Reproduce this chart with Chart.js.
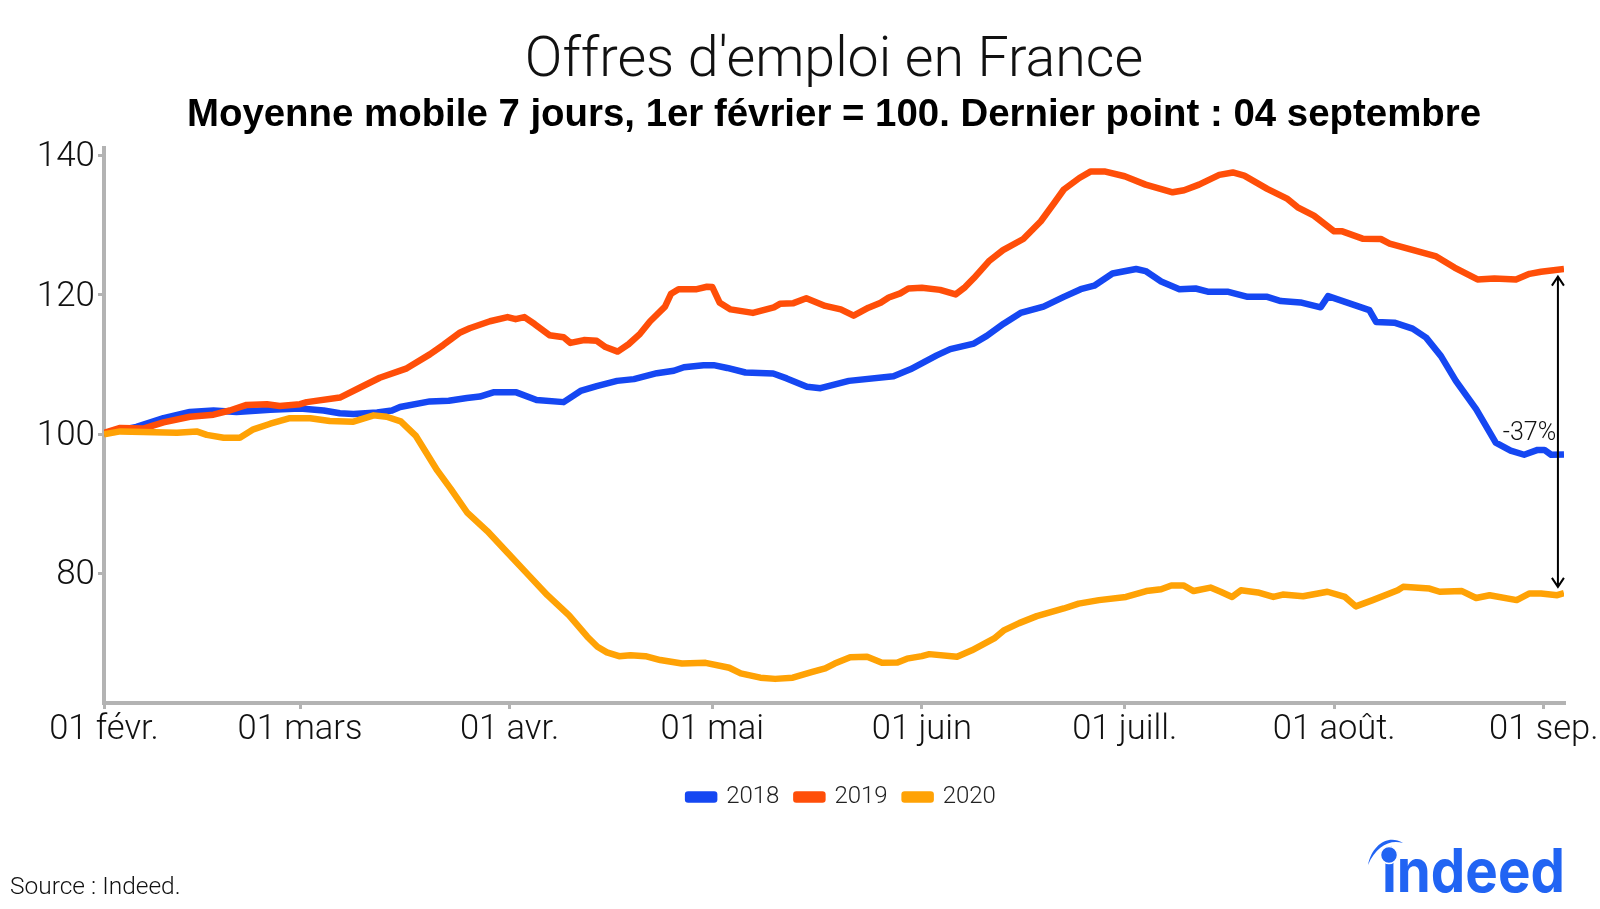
<!DOCTYPE html>
<html lang="fr">
<head>
<meta charset="utf-8">
<title>Offres d'emploi en France</title>
<script src="https://cdn.jsdelivr.net/npm/chart.js@4"></script>
<style>
  html, body { margin: 0; padding: 0; background: #fff; }
  #wrap { position: relative; width: 1600px; height: 909px; overflow: hidden; }
  #source { position: absolute; left: 10px; top: 871px; font: 300 24.5px Roboto, "Liberation Sans", sans-serif; color: #111; }
  #logo { position: absolute; left: 1360px; top: 825px; width: 220px; height: 84px; }
</style>
</head>
<body>
<div id="wrap">
  <canvas id="chart" width="1600" height="909"></canvas>
  <div id="source">Source : Indeed.</div>
  <svg id="logo" viewBox="1360 825 220 84">
    <path d="M1368 865 C1372 845 1388 834 1403 843 C1390 839 1376 846 1368 865 Z" fill="#2164f3"/>
    <text x="1382" y="892" font-family="Inter, Roboto, sans-serif" font-weight="700" font-size="60" textLength="183" lengthAdjust="spacingAndGlyphs" fill="#2164f3">indeed</text>
    <circle cx="1389" cy="855" r="8.5" fill="#2164f3" stroke="#fff" stroke-width="1.5"/>
  </svg>
</div>
<script>
// ==============================
// data (day 0 = 1 Feb)
// ==============================
const days2018 = [0,4.8,8.8,12.7,16.2,19.6,24.6,29,32.5,34.9,36.9,40.4,42.6,43.8,48.2,51,53.7,55.6,57.6,61,64,68,70.5,72.9,75.9,78.4,81.8,84.3,85.8,88.7,90.2,92.2,94.9,99,101,104,106,110.2,116.8,119.3,123.2,125.2,128.7,130.6,133.1,135.6,139,142,144.5,146.5,149.2,152.7,154.1,156.4,159.1,161.5,163.3,166.2,169.2,172.1,174.1,177,180,181.1,187.2,188.2,190.9,193.6,195.6,197.8,200,203,205.9,208.1,210.1,212.1,213.1,214.1,216];
const values2018 = [100.1,101.05,102.3,103.2,103.4,103.2,103.5,103.7,103.4,103,102.9,103.1,103.4,103.9,104.7,104.8,105.2,105.4,106,106,104.9,104.6,106.2,106.9,107.65,107.9,108.75,109.1,109.6,109.9,109.9,109.5,108.85,108.7,108,106.8,106.6,107.65,108.3,109.3,111.3,112.2,113,114.1,115.85,117.4,118.3,119.7,120.8,121.3,123.05,123.7,123.4,121.9,120.8,120.9,120.45,120.45,119.7,119.7,119.1,118.9,118.2,119.8,117.8,116.1,116,115.15,113.85,111.2,107.65,103.6,98.8,97.65,97.05,97.75,97.75,97.05,97.1];

const days2019 = [0,2.4,5.8,8.8,12.7,16.2,18.6,21.1,24.1,26,29,30,34.9,37.9,40.8,44.8,48.2,50.2,52.7,54.1,57.1,59.7,60.9,62.2,63.7,65.9,68,69,71,72.9,74.2,76,77.6,79.3,80.8,83,83.9,85,87.7,89.2,90,91.1,92.7,96,99.1,100,102,103.9,106.7,109,110.9,113.1,114.9,116.1,117.8,119,121,123.7,126,127.4,128.7,130.9,133,136,138.6,140.6,142,144.3,146,148,151,154.1,158.1,159.8,162,165,167,168.7,172.1,175.1,176.6,179,182,183.2,186.2,188.9,190.2,197.1,199.8,203.2,205.7,208.9,210.9,212.6,216];
const values2019 = [100.2,100.9,100.8,101.7,102.5,102.8,103.4,104.2,104.3,104.05,104.3,104.6,105.25,106.7,108.1,109.45,111.45,112.8,114.6,115.2,116.2,116.8,116.5,116.8,115.8,114.2,113.9,113.1,113.5,113.4,112.5,111.85,112.9,114.4,116.2,118.3,120.15,120.8,120.8,121.15,121.1,118.85,117.9,117.4,118.2,118.7,118.8,119.5,118.4,117.9,117,118.15,118.85,119.6,120.2,120.9,121,120.7,120.05,121.1,122.4,124.8,126.4,128,130.55,133.2,135.1,136.75,137.7,137.7,137,135.8,134.7,135,135.8,137.2,137.55,137.1,135.2,133.75,132.55,131.35,129.1,129.1,128.05,128,127.35,125.5,123.9,122.2,122.35,122.2,123,123.3,123.7];

const days2020 = [0,2.4,5.8,10.8,13.7,15.2,17.7,20.1,22.1,24.6,27.5,30.5,33.4,36.9,39.9,41.8,43.9,46.1,49.3,51.3,53.7,56.7,59.6,62.6,65.6,68.8,71.5,73,74.4,76.2,77.9,80.1,82.3,85.5,89,92.5,94.2,97.1,99.3,101.9,104.8,106.7,108.1,110.4,112.9,115.1,117.4,118.8,121,122.1,126.2,128.4,131.7,133.2,135.4,138,142,144.2,147.2,151.2,154.2,156.4,157.9,159.7,161.2,163.7,165.2,166.9,168.2,170.7,173,174.4,177.4,181,183.6,185.2,187.7,191.4,192.2,196.1,197.6,200.9,203,205,209,210.9,212.6,215,216];
const values2020 = [100,100.4,100.3,100.2,100.4,99.9,99.5,99.5,100.7,101.5,102.3,102.3,101.9,101.8,102.7,102.5,101.85,99.8,94.8,92.15,88.8,86.1,83.1,80,76.9,74,70.95,69.5,68.7,68.15,68.3,68.15,67.6,67.1,67.2,66.5,65.7,65.07,64.9,65.07,65.9,66.4,67.1,68,68.07,67.2,67.26,67.8,68.17,68.45,68.07,69,70.7,71.9,72.9,73.9,75,75.7,76.2,76.65,77.5,77.75,78.3,78.3,77.5,78,77.4,76.65,77.6,77.3,76.65,77,76.75,77.4,76.65,75.3,76.2,77.6,78.1,77.85,77.4,77.5,76.5,76.9,76.2,77.15,77.15,76.9,77.2];

const xTickDays = [0, 29, 60, 90, 121, 151, 182, 213];
const xTickLabels = ["01 févr.", "01 mars", "01 avr.", "01 mai", "01 juin", "01 juill.", "01 août.", "01 sep."];
const yTickValues = [80, 100, 120, 140];

// annotation
const gapDay = 215.1;
const gapTop = 122.6;
const gapBottom = 78.1;
const gapLabel = "-37%";
const gapLabelDay = 210.9;
const gapLabelValue = 100;

const LIGHT = 'Roboto, "Liberation Sans", sans-serif';
const GREY = "#b3b3b3";

const toPoints = (days, values) => days.map((d, i) => ({ x: d, y: values[i] }));

function line(label, days, values, color, order) {
    return {
        label: label,
        data: toPoints(days, values),
        borderColor: color,
        backgroundColor: color,
        borderWidth: 6.5,
        pointRadius: 0,
        tension: 0,
        borderJoinStyle: "round",
        order: order
    };
}

// double arrow + label, placed through the scales
const gapArrow = {
    id: "gapArrow",
    afterLayout(chart) {
        // legend sits a bit right of the plot centre in the original
        chart.legend.left += 8;
        chart.legend.right += 8;
    },
    afterDatasetsDraw(chart) {
        const { ctx, scales } = chart;
        const x = scales.x.getPixelForValue(gapDay);
        const y1 = scales.y.getPixelForValue(gapTop);
        const y2 = scales.y.getPixelForValue(gapBottom);
        ctx.save();
        ctx.strokeStyle = "#000";
        ctx.lineWidth = 2;
        ctx.beginPath();
        ctx.moveTo(x, y1);
        ctx.lineTo(x, y2);
        ctx.moveTo(x - 6, y1 + 9);
        ctx.lineTo(x, y1);
        ctx.lineTo(x + 6, y1 + 9);
        ctx.moveTo(x - 6, y2 - 9);
        ctx.lineTo(x, y2);
        ctx.lineTo(x + 6, y2 - 9);
        ctx.stroke();
        ctx.fillStyle = "#111";
        ctx.font = "300 25px " + LIGHT;
        ctx.textAlign = "center";
        ctx.textBaseline = "middle";
        ctx.fillText(gapLabel, scales.x.getPixelForValue(gapLabelDay), scales.y.getPixelForValue(gapLabelValue));
        ctx.restore();
    }
};

new Chart(document.getElementById("chart"), {
    type: "line",
    data: {
        datasets: [
            line("2018", days2018, values2018, "#1547f2", 3),
            line("2019", days2019, values2019, "#ff4e08", 2),
            line("2020", days2020, values2020, "#ffa205", 1)
        ]
    },
    options: {
        responsive: false,
        animation: false,
        layout: { padding: { top: 29, right: 36, bottom: 90, left: 0 } },
        plugins: {
            title: {
                display: true,
                text: "Offres d'emploi en France",
                fullSize: false,
                color: "#111",
                font: { family: LIGHT, size: 55.5, weight: "300" },
                padding: { top: 0, bottom: -3 }
            },
            subtitle: {
                display: true,
                text: "Moyenne mobile 7 jours, 1er février = 100. Dernier point : 04 septembre",
                fullSize: false,
                color: "#000",
                font: { family: '"Liberation Sans", sans-serif', size: 38.4, weight: "bold" },
                padding: { top: 0, bottom: 9 }
            },
            legend: {
                position: "bottom",
                fullSize: false,
                labels: {
                    boxWidth: 26,
                    boxHeight: 5,
                    padding: 17,
                    color: "#222",
                    font: { family: LIGHT, size: 24, weight: "300" },
                    sort: (a, b) => a.text.localeCompare(b.text)
                }
            },
            tooltip: { enabled: false }
        },
        scales: {
            x: {
                type: "linear",
                min: 0,
                max: 216,
                afterBuildTicks(axis) { axis.ticks = xTickDays.map(v => ({ value: v })); },
                afterFit(axis) { axis.height = 65; },
                border: { color: GREY, width: 4 },
                grid: { drawOnChartArea: false, color: GREY, lineWidth: 3, tickLength: 6 },
                ticks: {
                    autoSkip: false,
                    maxRotation: 0,
                    padding: 1,
                    color: "#111",
                    font: { family: LIGHT, size: 34.5, weight: "300" },
                    callback(v) { return xTickLabels[xTickDays.indexOf(v)]; }
                }
            },
            y: {
                min: 61.44,
                max: 141.1,
                afterBuildTicks(axis) { axis.ticks = yTickValues.map(v => ({ value: v })); },
                afterFit(axis) { axis.width = 104; },
                border: { color: GREY, width: 4 },
                grid: { drawOnChartArea: false, color: GREY, lineWidth: 3, tickLength: 6 },
                ticks: {
                    labelOffset: 2,
                    color: "#111",
                    font: { family: LIGHT, size: 35, weight: "300" }
                }
            }
        }
    },
    plugins: [gapArrow]
});
</script>
</body>
</html>
